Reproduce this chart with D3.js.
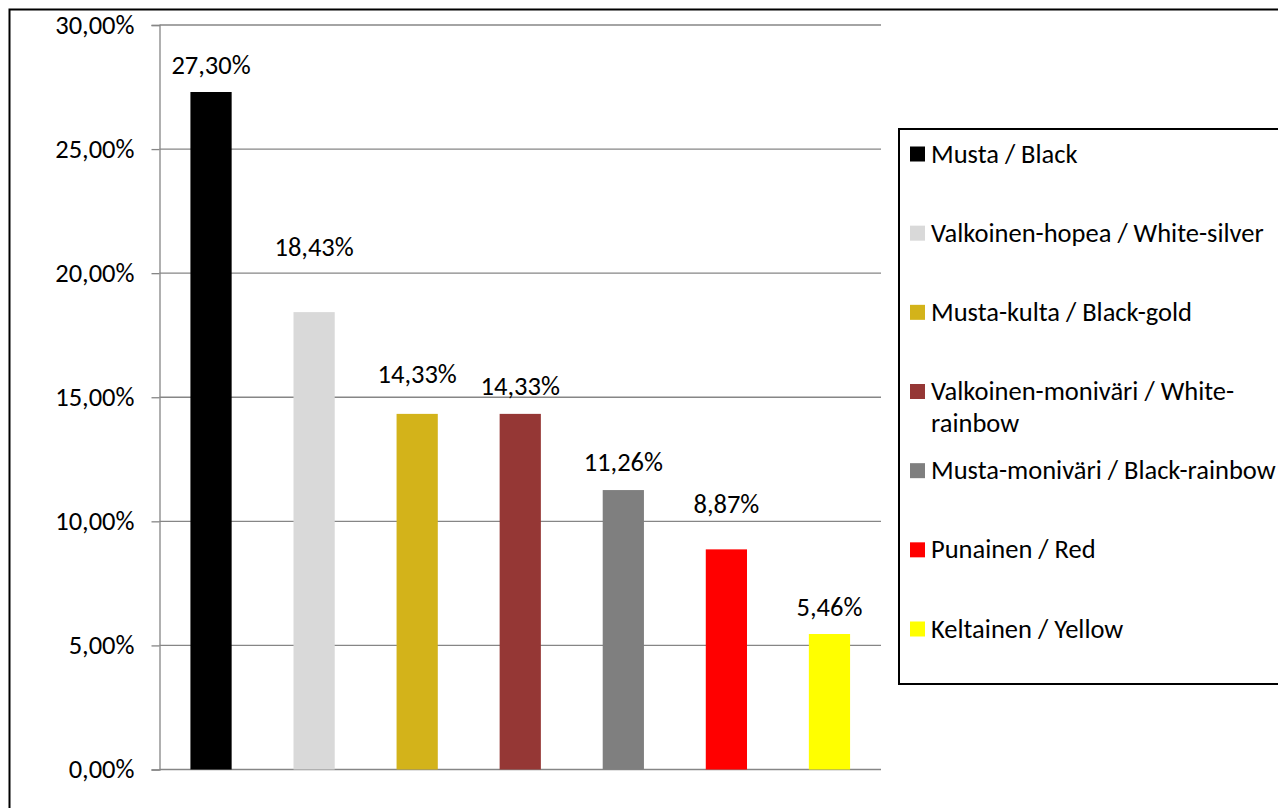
<!DOCTYPE html>
<html>
<head>
<meta charset="utf-8">
<script src="https://cdn.jsdelivr.net/npm/d3@7"></script>
<style>
  body { margin: 0; background: #fff; }
  svg { display: block; }
  text { font-family: Carlito, Calibri, "Open Sans", sans-serif; fill: #000; }
</style>
</head>
<body>
<div id="chart"></div>
<script>
var categories = ["Musta / Black", "Valkoinen-hopea / White-silver", "Musta-kulta / Black-gold",
                  "Valkoinen-moniväri / White-rainbow", "Musta-moniväri / Black-rainbow",
                  "Punainen / Red", "Keltainen / Yellow"];
var values = [27.30, 18.43, 14.33, 14.33, 11.26, 8.87, 5.46];
var colors = ["#000000", "#d9d9d9", "#d3b31a", "#953735", "#7f7f7f", "#ff0000", "#ffff00"];
var yTicks = [0, 5, 10, 15, 20, 25, 30];

// labels were nudged by hand in the original, pixels above the bar top
var labelGap = [18, 56, 31, 19, 19, 36, 18];

var width = 1278, height = 808,
    plot = {left: 159.5, right: 881, top: 25, bottom: 769.5},
    fontSize = 26.5;

var fi = d3.formatLocale({decimal: ",", thousands: " ", grouping: [3], currency: ["", ""]});
var pct = function (v) { return fi.format(".2f")(v) + "%"; };

var svg = d3.select("#chart").append("svg")
    .attr("width", width)
    .attr("height", height);

// chart area frame
svg.append("rect")
    .attr("x", 9.5).attr("y", 9.5)
    .attr("width", 1400).attr("height", 900)
    .attr("fill", "#fff")
    .attr("stroke", "#000")
    .attr("stroke-width", 2);

var x = d3.scaleBand()
    .domain(categories)
    .range([plot.left, plot.right])
    .paddingInner(0.6)
    .paddingOuter(0.3);

var y = d3.scaleLinear()
    .domain([0, 30])
    .range([plot.bottom, plot.top]);

// gridlines
svg.append("g").selectAll("line")
    .data(yTicks)
    .enter().append("line")
    .attr("x1", plot.left).attr("x2", plot.right)
    .attr("y1", function (d) { return y(d); })
    .attr("y2", function (d) { return y(d); })
    .attr("stroke", "#868686")
    .attr("stroke-width", 1.3);

// y axis
var yAxis = svg.append("g")
    .attr("transform", "translate(" + plot.left + ",0)")
    .call(d3.axisLeft(y).tickValues(yTicks).tickSize(8).tickPadding(17).tickFormat(pct));

yAxis.select(".domain").attr("stroke", "#868686").attr("stroke-width", 1.3);
yAxis.selectAll(".tick line").attr("stroke", "#868686").attr("stroke-width", 1.3);
yAxis.selectAll(".tick text")
    .attr("font-size", fontSize)
    .style("font-family", "Carlito, Calibri, 'Open Sans', sans-serif")
    .attr("fill", "#000");

// bars
svg.append("g").selectAll("rect")
    .data(values)
    .enter().append("rect")
    .attr("x", function (d, i) { return x(categories[i]); })
    .attr("y", function (d) { return y(d); })
    .attr("width", x.bandwidth())
    .attr("height", function (d) { return y(0) - y(d); })
    .attr("fill", function (d, i) { return colors[i]; });

// value labels
svg.append("g").selectAll("text")
    .data(values)
    .enter().append("text")
    .attr("x", function (d, i) { return x(categories[i]) + x.bandwidth() / 2; })
    .attr("y", function (d, i) { return y(d) - labelGap[i]; })
    .attr("text-anchor", "middle")
    .attr("font-size", fontSize)
    .text(pct);

// legend
var legend = svg.append("g");
legend.append("rect")
    .attr("x", 899).attr("y", 129)
    .attr("width", 500).attr("height", 555)
    .attr("fill", "#fff")
    .attr("stroke", "#000")
    .attr("stroke-width", 2);

var ly = d3.scaleLinear().domain([0, categories.length - 1]).range([154, 629]);
var wrapWidth = 360;

var item = legend.selectAll("g.item")
    .data(categories)
    .enter().append("g")
    .attr("class", "item")
    .attr("transform", function (d, i) { return "translate(910," + ly(i) + ")"; });

item.append("rect")
    .attr("x", 0).attr("y", -7.5)
    .attr("width", 15).attr("height", 15)
    .attr("fill", function (d, i) { return colors[i]; });

item.append("text")
    .attr("x", 21)
    .attr("y", 8.5)
    .attr("font-size", fontSize)
    .each(function (d) {
        var t = d3.select(this);
        t.text(d);
        if (this.getComputedTextLength() <= wrapWidth) return;
        // break after the last hyphen or space that still fits
        var cut = -1;
        for (var k = d.length - 1; k > 0; k--) {
            if (d[k] === "-" || d[k] === " ") {
                t.text(d.slice(0, k + 1));
                if (this.getComputedTextLength() <= wrapWidth) { cut = k + 1; break; }
            }
        }
        if (cut < 0) { t.text(d); return; }
        t.text(null);
        t.append("tspan").attr("x", 21).text(d.slice(0, cut).trim());
        t.append("tspan").attr("x", 21).attr("dy", 31.7).text(d.slice(cut).trim());
    });
</script>
</body>
</html>
